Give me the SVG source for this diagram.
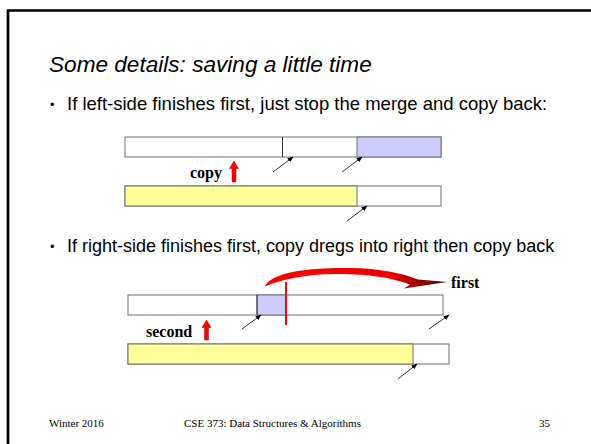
<svg xmlns="http://www.w3.org/2000/svg" width="591" height="444" viewBox="0 0 591 444">
<defs>
<style>
.title{font-family:"Liberation Sans",Arial,sans-serif;font-style:italic;font-size:22.6px;fill:#000}
.bul{font-family:"Liberation Sans",Arial,sans-serif;font-size:18px;fill:#000}
.dot{font-family:"Liberation Sans",Arial,sans-serif;font-size:13px;fill:#000}
.lbl{font-family:"Liberation Serif","Times New Roman",serif;font-weight:bold;font-size:16px;fill:#000}
.foot{font-family:"Liberation Serif","Times New Roman",serif;font-size:11px;fill:#000}
.bar{stroke:#6e6e6e;stroke-width:1}
.ptr{stroke:#000;stroke-width:0.8;fill:none;marker-end:url(#ah)}
</style>
<marker id="ah" viewBox="0 0 10 10" refX="9" refY="5" markerWidth="6" markerHeight="6" orient="auto" markerUnits="userSpaceOnUse">
<path d="M0,1 L10,5 L0,9 Z" fill="#000"/>
</marker>
<linearGradient id="cg" x1="0" y1="0" x2="1" y2="0">
<stop offset="0" stop-color="#ff0000"/>
<stop offset="0.7" stop-color="#ee0000"/>
<stop offset="1" stop-color="#400000"/>
</linearGradient>
</defs>
<rect width="591" height="444" fill="#fff"/>
<path d="M8,444 L8,10.5 L591,10.5" fill="none" stroke="#000" stroke-width="2.7"/>
<text class="title" x="49" y="72">Some details: saving a little time</text>
<g id="bullet1">
<text class="dot" x="50" y="109">•</text>
<text class="bul" x="67" y="110" style="font-size:18.5px">If left-side finishes first, just stop the merge and copy back:</text>
</g>
<g id="diagram1">
<g id="d1-top">
<rect class="bar" x="125" y="137" width="316" height="20" fill="#fff"/>
<rect class="bar" x="357" y="137" width="84" height="20" fill="#ccccff"/>
<line x1="282.5" y1="137" x2="282.5" y2="157" stroke="#333" stroke-width="1"/>
</g>
<g id="d1-bottom">
<rect class="bar" x="125" y="186" width="316" height="20" fill="#fff"/>
<rect class="bar" x="125" y="186" width="232" height="20" fill="#ffff99"/>
</g>
<g id="d1-copy">
<text class="lbl" x="190" y="178">copy</text>
<path d="M234,161 L238.5,168.5 L236,168.5 L236,182 L232,182 L232,168.5 L229.5,168.5 Z" fill="#ff0000" stroke="#b00000" stroke-width="0.5"/>
</g>
</g>
<g id="bullet2">
<text class="dot" x="50" y="251">•</text>
<text class="bul" x="67" y="252">If right-side finishes first, copy dregs into right then copy back</text>
</g>
<g id="diagram2">
<g id="d2-top">
<rect class="bar" x="128" y="295" width="315" height="20" fill="#fff"/>
<rect class="bar" x="257" y="295" width="29" height="20" fill="#ccccff"/>
<line x1="257" y1="295" x2="257" y2="315" stroke="#333" stroke-width="1"/>
</g>
<g id="d2-bottom">
<rect class="bar" x="128" y="344" width="321" height="20" fill="#fff"/>
<rect class="bar" x="128" y="344" width="285" height="20" fill="#ffff99"/>
</g>
<g id="d2-curve">
<path d="M265,286.5 C271,272 310,267.5 350,268 C380,268.5 402,273 418,279.5 L447,282 L404,288.5 L410,284.5 C390,277 365,273.5 335,274 C305,274.5 282,279 265,286.5 Z" fill="url(#cg)"/>
<text class="lbl" x="451" y="288">first</text>
</g>
<line x1="286" y1="282" x2="286" y2="325" stroke="#ff0000" stroke-width="2"/>
<g id="d2-second">
<text class="lbl" x="146" y="337">second</text>
<path d="M206.5,320 L211,327.5 L208.5,327.5 L208.5,340 L204.5,340 L204.5,327.5 L202,327.5 Z" fill="#ff0000" stroke="#b00000" stroke-width="0.5"/>
</g>
</g>
<g id="connectors">
<line class="ptr" x1="273" y1="172" x2="293" y2="157"/>
<line class="ptr" x1="342" y1="172" x2="362" y2="157"/>
<line class="ptr" x1="347" y1="221" x2="367" y2="206"/>
<line class="ptr" x1="242" y1="329" x2="261" y2="315"/>
<line class="ptr" x1="429" y1="329" x2="449" y2="315"/>
<line class="ptr" x1="398" y1="379" x2="417" y2="364"/>
</g>
<g id="footer">
<text class="foot" x="49" y="427">Winter 2016</text>
<text class="foot" x="184" y="427">CSE 373: Data Structures &amp; Algorithms</text>
<text class="foot" x="539" y="427">35</text>
</g>
</svg>
